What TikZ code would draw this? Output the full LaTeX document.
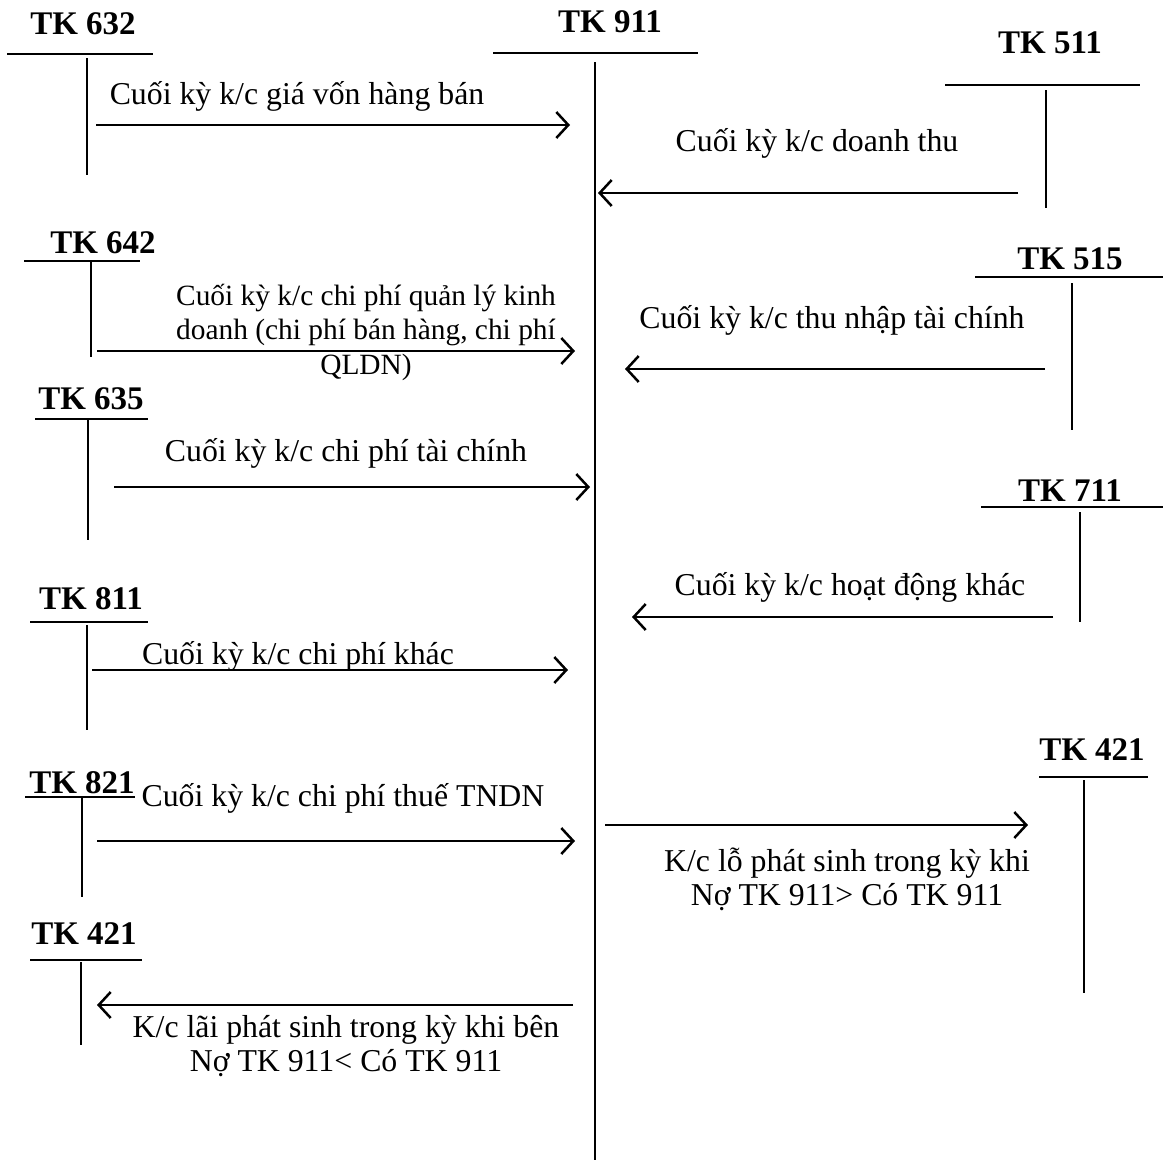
\documentclass[tikz,border=0pt]{standalone}
\usepackage{fontspec}
\setmainfont{Liberation Serif}
\usetikzlibrary{arrows.meta}
\begin{document}
\begin{tikzpicture}[x=1pt,y=-1pt,
  acct/.style={font=\fontsize{33}{36}\selectfont\bfseries, inner sep=0pt, anchor=base},
  lbl/.style={font=\fontsize{31.8}{34}\selectfont, inner sep=0pt, anchor=base, align=center},
  smalllbl/.style={font=\fontsize{29.4}{34.5}\selectfont, inner sep=0pt, align=center},
  tline/.style={line width=2pt},
  flow/.style={line width=2.5pt, -{Straight Barb[length=12pt,width=26pt,line width=2.5pt]}}]
\useasboundingbox (0,0) rectangle (1163,1160);

% ---------- TK 911 (central)
\node[acct] (t911) at (610,32) {TK 911};
\draw[tline] (493,53) -- (698,53);
\draw[tline] (595,62) -- (595,1160);

% ---------- TK 632
\node[acct] (t632) at (83,34) {TK 632};
\draw[tline] (7,54) -- (153,54);
\draw[tline] (87,58) -- (87,175);
\coordinate (a1s) at (96,125); \coordinate (a1e) at (570,125);
\draw[flow] (a1s) -- (a1e);
\node[lbl] (l1) at (297,104) {Cuối kỳ k/c giá vốn hàng bán};

% ---------- TK 511
\node[acct] (t511) at (1050,53) {TK 511};
\draw[tline] (945,85) -- (1140,85);
\draw[tline] (1046,90) -- (1046,208);
\coordinate (a2s) at (1018,193); \coordinate (a2e) at (598,193);
\draw[flow] (a2s) -- (a2e);
\node[lbl] (l2) at (817,151) {Cuối kỳ k/c doanh thu};

% ---------- TK 642
\node[acct] (t642) at (103,253) {TK 642};
\draw[tline] (24,261) -- (140,261);
\draw[tline] (91,262) -- (91,357);
\coordinate (a3s) at (97,351); \coordinate (a3e) at (575,351);
\draw[flow] (a3s) -- (a3e);
\node[smalllbl, anchor=north] (l3) at (366,284) {Cuối kỳ k/c chi phí quản lý kinh\\doanh (chi phí bán hàng, chi phí\\QLDN)};

% ---------- TK 515
\node[acct] (t515) at (1070,269) {TK 515};
\draw[tline] (975,277) -- (1163,277);
\draw[tline] (1072,283) -- (1072,430);
\coordinate (a4s) at (1045,369); \coordinate (a4e) at (625,369);
\draw[flow] (a4s) -- (a4e);
\node[lbl] (l4) at (832,328) {Cuối kỳ k/c thu nhập tài chính};

% ---------- TK 635
\node[acct] (t635) at (91,409) {TK 635};
\draw[tline] (35,419) -- (148,419);
\draw[tline] (88,420) -- (88,540);
\coordinate (a5s) at (114,487); \coordinate (a5e) at (590,487);
\draw[flow] (a5s) -- (a5e);
\node[lbl] (l5) at (346,461) {Cuối kỳ k/c chi phí tài chính};

% ---------- TK 711
\node[acct] (t711) at (1070,501) {TK 711};
\draw[tline] (981,507) -- (1163,507);
\draw[tline] (1080,512) -- (1080,622);
\coordinate (a6s) at (1053,617); \coordinate (a6e) at (632,617);
\draw[flow] (a6s) -- (a6e);
\node[lbl] (l6) at (850,595) {Cuối kỳ k/c hoạt động khác};

% ---------- TK 811
\node[acct] (t811) at (91,609) {TK 811};
\draw[tline] (30,622) -- (148,622);
\draw[tline] (87,625) -- (87,730);
\coordinate (a7s) at (92,670); \coordinate (a7e) at (568,670);
\draw[flow] (a7s) -- (a7e);
\node[lbl] (l7) at (298,664) {Cuối kỳ k/c chi phí khác};

% ---------- TK 421 (right)
\node[acct] (t421r) at (1092,760) {TK 421};
\draw[tline] (1039,777) -- (1148,777);
\draw[tline] (1084,780) -- (1084,993);
\coordinate (a8s) at (605,825); \coordinate (a8e) at (1028,825);
\draw[flow] (a8s) -- (a8e);
\node[lbl, anchor=north] (l8) at (847,848) {K/c lỗ phát sinh trong kỳ khi\\Nợ TK 911> Có TK 911};

% ---------- TK 821
\node[acct] (t821) at (82,793) {TK 821};
\draw[tline] (25,797) -- (135,797);
\draw[tline] (82,798) -- (82,897);
\coordinate (a9s) at (97,841); \coordinate (a9e) at (575,841);
\draw[flow] (a9s) -- (a9e);
\node[lbl] (l9) at (343,806) {Cuối kỳ k/c chi phí thuế TNDN};

% ---------- TK 421 (left)
\node[acct] (t421l) at (84,944) {TK 421};
\draw[tline] (30,960) -- (142,960);
\draw[tline] (81,962) -- (81,1045);
\coordinate (a10s) at (573,1005); \coordinate (a10e) at (97,1005);
\draw[flow] (a10s) -- (a10e);
\node[lbl, anchor=north] (l10) at (346,1015) {K/c lãi phát sinh trong kỳ khi bên\\Nợ TK 911< Có TK 911};
\end{tikzpicture}
\end{document}
